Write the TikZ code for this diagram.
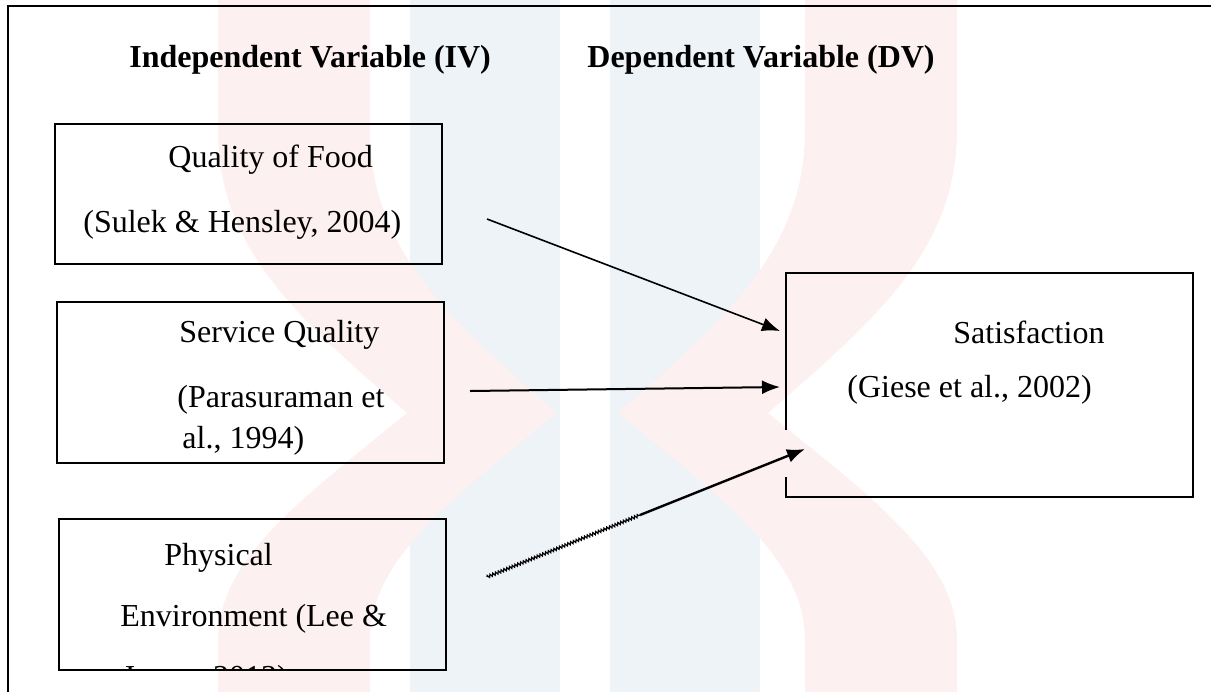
\documentclass[tikz,border=0pt]{standalone}
\usepackage{fontspec}
\setmainfont{Liberation Serif}
\usetikzlibrary{arrows.meta,decorations.pathmorphing}
\definecolor{wmpink}{HTML}{FDF0F0}
\definecolor{wmblue}{HTML}{EEF3F8}
\begin{document}
\begin{tikzpicture}[x=0.5pt,y=-0.5pt,
  box/.style={draw, line width=1.25pt, inner sep=0pt, outer sep=0pt},
  txt/.style={anchor=base west, inner sep=0pt, font=\fontsize{16}{19}\selectfont},
  ttl/.style={txt, font=\fontsize{16}{19}\selectfont\bfseries},
  arr/.style={-{Latex[length=9pt,width=7pt]}, line width=1pt},
  zig/.style={decorate, decoration={zigzag, amplitude=0.7pt, segment length=1.5pt}, line width=0.6pt}]
\useasboundingbox (0,0) rectangle (1211,692);
% watermark
\fill[wmblue] (410,0) rectangle (560,692);
\fill[wmblue] (610,0) rectangle (760,692);
\fill[wmpink] (218,0) -- (370,0) -- (370,130) .. controls (370,250) and (450,320) .. (557,413)
  .. controls (450,500) and (370,560) .. (370,640) -- (370,692) -- (218,692) -- (218,640)
  .. controls (218,560) and (300,500) .. (407,413) .. controls (300,320) and (218,250) .. (218,130) -- cycle;
\fill[wmpink] (805,0) -- (957,0) -- (957,130) .. controls (957,250) and (875,320) .. (768,413)
  .. controls (875,500) and (957,560) .. (957,640) -- (957,692) -- (805,692) -- (805,640)
  .. controls (805,560) and (725,500) .. (618,413) .. controls (725,320) and (805,250) .. (805,130) -- cycle;
% frame
\draw[line width=1.25pt] (8,692) -- (8,6) -- (1211,6);
% titles
\node[ttl] (iv) at (129,67) {Independent Variable (IV)};
\node[ttl] (dv) at (587,67) {Dependent Variable (DV)};
% boxes
\node[box, minimum width=193.5pt, minimum height=70pt] (qf) at (248.5,194) {};
\node[box, minimum width=193.5pt, minimum height=80.5pt] (sq) at (250.5,382.5) {};
\node[box, minimum width=193.5pt, minimum height=75.5pt] (pe) at (252.5,594.5) {};
\node[inner sep=0pt, outer sep=0pt, minimum width=203.5pt, minimum height=112pt] (sat) at (989.5,385) {};
\draw[line width=1.25pt] (sat.north west |- 0,430) -- (sat.north west) -- (sat.north east)
  -- (sat.south east) -- (sat.south west) -- (sat.south west |- 0,477);
% texts
\node[txt] (qf1) at (168,167) {Quality of Food};
\node[txt] (qf2) at (83,232) {(Sulek \& Hensley, 2004)};
\node[txt] (sq1) at (179,342) {Service Quality};
\node[txt] (sq2) at (177,407) {(Parasuraman et};
\node[txt] (sq3) at (182,448) {al., 1994)};
\node[txt] (pe1) at (164,565) {Physical};
\node[txt] (pe2) at (120,626) {Environment (Lee \&};
\begin{scope}
\clip (pe.north west) rectangle (pe.south east);
\node[txt] (pe3) at (122,687) {Jeong, 2012)};
\end{scope}
\node[txt] (st1) at (953,343) {Satisfaction};
\node[txt] (st2) at (847,397) {(Giese et al., 2002)};
% connectors
\coordinate (a1) at (487,219);
\coordinate (b1) at (780,331);
\coordinate (a2) at (470,391);
\coordinate (b2) at (780,387);
\coordinate (a3) at (487,577);
\coordinate (m3) at (640,515);
\coordinate (b3) at (805,449);
\draw[arr, line width=0.8pt] (a1) -- (b1);
\draw[arr] (a2) -- (b2);
\draw[zig] (a3) -- (m3);
\draw[arr, line width=1.2pt] (m3) -- (b3);
\end{tikzpicture}
\end{document}
